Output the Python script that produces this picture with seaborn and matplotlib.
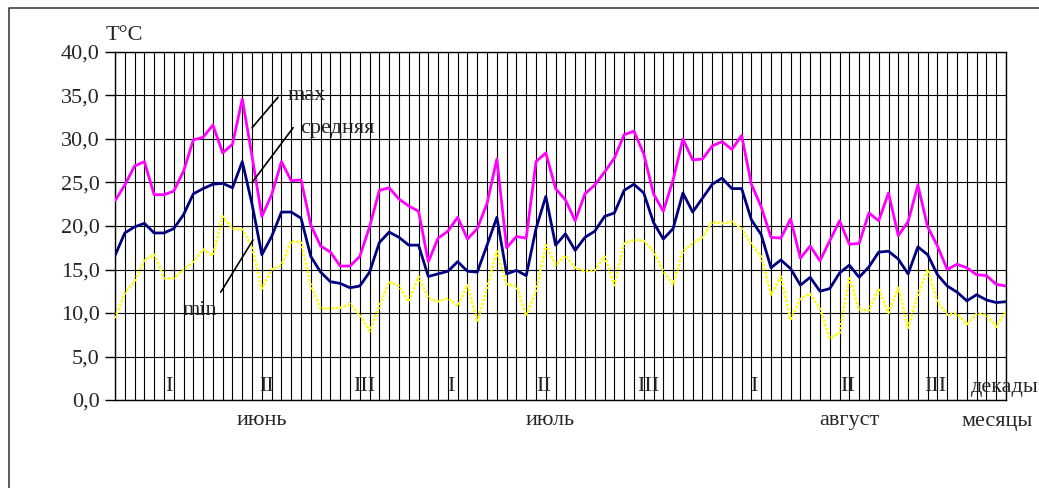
import numpy as np
import pandas as pd
import matplotlib
matplotlib.use("Agg")
import matplotlib.pyplot as plt
from matplotlib.lines import Line2D
from matplotlib.ticker import FuncFormatter, MultipleLocator
import seaborn as sns

# --- daily temperatures, June-August (92 days) ---
t_max = [22.9, 24.7, 26.9, 27.4, 23.6, 23.6, 24.0, 26.3, 29.9, 30.2,
         31.6, 28.4, 29.4, 34.6, 28.0, 21.1, 23.6, 27.4, 25.2, 25.3,
         20.1, 17.7, 17.0, 15.4, 15.4, 16.5, 19.9, 24.1, 24.4, 23.1,
         22.3, 21.7, 15.9, 18.6, 19.4, 21.0, 18.5, 19.7, 22.6, 27.7,
         17.5, 18.8, 18.6, 27.4, 28.4, 24.3, 23.0, 20.6, 23.7, 24.7,
         26.2, 27.8, 30.5, 30.9, 28.3, 23.7, 21.7, 25.3, 30.0, 27.6,
         27.7, 29.2, 29.7, 28.8, 30.4, 24.8, 22.2, 18.7, 18.6, 20.8,
         16.3, 17.7, 16.0, 18.3, 20.6, 17.9, 18.0, 21.5, 20.6, 23.8,
         18.9, 20.5, 24.7, 19.9, 17.7, 15.0, 15.6, 15.2, 14.4, 14.3,
         13.3, 13.1]

t_mean = [16.6, 19.2, 19.9, 20.3, 19.2, 19.2, 19.7, 21.3, 23.7, 24.3,
          24.8, 24.9, 24.4, 27.4, 22.5, 16.7, 18.8, 21.6, 21.6, 20.9,
          16.5, 14.7, 13.6, 13.4, 12.9, 13.1, 14.7, 18.1, 19.3, 18.7,
          17.8, 17.8, 14.2, 14.5, 14.8, 15.9, 14.8, 14.7, 17.8, 21.0,
          14.5, 14.9, 14.3, 19.7, 23.4, 17.8, 19.1, 17.2, 18.7, 19.4,
          21.1, 21.5, 24.1, 24.8, 23.8, 20.4, 18.5, 19.7, 23.8, 21.6,
          23.2, 24.8, 25.5, 24.3, 24.3, 20.7, 19.0, 15.2, 16.1, 15.1,
          13.2, 14.1, 12.5, 12.8, 14.6, 15.5, 14.1, 15.3, 17.0, 17.1,
          16.2, 14.5, 17.6, 16.7, 14.4, 13.1, 12.4, 11.4, 12.1, 11.5,
          11.2, 11.3]

t_min = [9.4, 12.3, 13.6, 16.1, 16.7, 14.0, 14.0, 15.0, 15.9, 17.3,
         16.6, 21.1, 19.7, 19.6, 17.6, 12.8, 15.0, 15.5, 18.3, 18.1,
         13.2, 10.5, 10.5, 10.6, 11.0, 9.8, 7.9, 10.8, 13.6, 13.1,
         11.3, 14.2, 11.7, 11.3, 11.7, 10.8, 13.2, 9.0, 12.9, 17.1,
         13.3, 13.1, 9.7, 12.5, 17.8, 15.5, 16.6, 15.2, 14.8, 14.9,
         16.5, 13.2, 18.0, 18.4, 18.3, 17.1, 14.8, 13.3, 17.1, 18.0,
         18.7, 20.5, 20.3, 20.5, 19.7, 17.9, 16.5, 12.1, 14.2, 9.2,
         11.7, 12.2, 10.5, 7.1, 7.7, 14.0, 10.4, 10.3, 12.8, 10.0,
         12.9, 8.3, 12.1, 15.0, 11.3, 9.8, 9.9, 8.7, 9.9, 9.8,
         8.4, 10.3]

days = np.arange(len(t_max))

decade_labels = ["I", "II", "III", "I", "II", "III", "I", "II", "III"]
decade_pos = [5.5, 15.5, 25.5, 34.3, 43.8, 54.5, 65.3, 74.8, 83.8]
month_labels = ["июнь", "июль", "август"]
month_pos = [15.0, 44.4, 75.0]

df = pd.DataFrame({"day": days, "max": t_max, "mean": t_mean, "min": t_min})

sns.set_style("white")
plt.rcParams["font.family"] = ["Liberation Serif", "DejaVu Serif"]
FS = 16

fig = plt.figure(figsize=(10.39, 4.88), dpi=100)
ax = fig.add_axes([115 / 1039, 1 - 400 / 488, 891 / 1039, 348 / 488])

# chart area frame (only top and left edges are visible in the picture)
fig.lines.append(Line2D([9 / 1039, 9 / 1039, 1.0], [0.0, 1 - 8 / 488, 1 - 8 / 488],
                        transform=fig.transFigure, color="#404040", linewidth=1.2))

sns.lineplot(data=df, x="day", y="min", ax=ax, color="#FFFF00",
             linewidth=1.8, linestyle=(0, (1.0, 0.7)), zorder=3)
sns.lineplot(data=df, x="day", y="mean", ax=ax, color="#000080",
             linewidth=2.0, zorder=4)
sns.lineplot(data=df, x="day", y="max", ax=ax, color="#FF00FF",
             linewidth=2.0, zorder=5)

ax.set_xlim(0, len(days) - 1)
ax.set_ylim(0, 40)
ax.set_xticks(days)
ax.set_xticklabels([])
ax.yaxis.set_major_locator(MultipleLocator(5))
ax.yaxis.set_major_formatter(FuncFormatter(lambda v, p: f"{v:.1f}".replace(".", ",")))
ax.tick_params(axis="x", length=0)
ax.tick_params(axis="y", direction="out", length=7, width=1, color="black",
               labelsize=FS, pad=4, left=True)
ax.grid(True, color="black", linewidth=0.8)
ax.set_axisbelow(True)
for s in ax.spines.values():
    s.set_color("black")
    s.set_linewidth(1.0)
ax.set_xlabel("")
ax.set_ylabel("")

# decades and months
for lab, xp in zip(decade_labels, decade_pos):
    ax.text(xp, 1.5, lab, fontsize=FS, ha="center", va="center", zorder=6)
ax.text(90.9, 1.4, "декады", fontsize=FS, ha="center", va="center",
        clip_on=False, zorder=6)
for lab, xp in zip(month_labels, month_pos):
    ax.text(xp, -2.4, lab, fontsize=FS, ha="center", va="center", clip_on=False)
ax.text(90.1, -2.5, "месяцы", fontsize=FS, ha="center", va="center", clip_on=False)

ax.text(-1.0, 41.9, "T°C", fontsize=FS, ha="left", va="center", clip_on=False)

# series labels with leader lines
ax.plot([16.65, 14.0], [34.8, 31.3], color="black", linewidth=1.2, zorder=6)
ax.text(17.6, 35.0, "max", fontsize=FS, ha="left", va="center", zorder=6)
ax.plot([18.2, 14.0], [31.3, 25.0], color="black", linewidth=1.2, zorder=6)
ax.text(18.9, 31.2, "средняя", fontsize=FS, ha="left", va="center", zorder=6)
ax.plot([14.1, 10.8], [18.4, 12.4], color="black", linewidth=1.2, zorder=6)
ax.text(8.7, 10.3, "min", fontsize=FS, ha="center", va="center", zorder=6)

fig.savefig("out.png", dpi=100)
